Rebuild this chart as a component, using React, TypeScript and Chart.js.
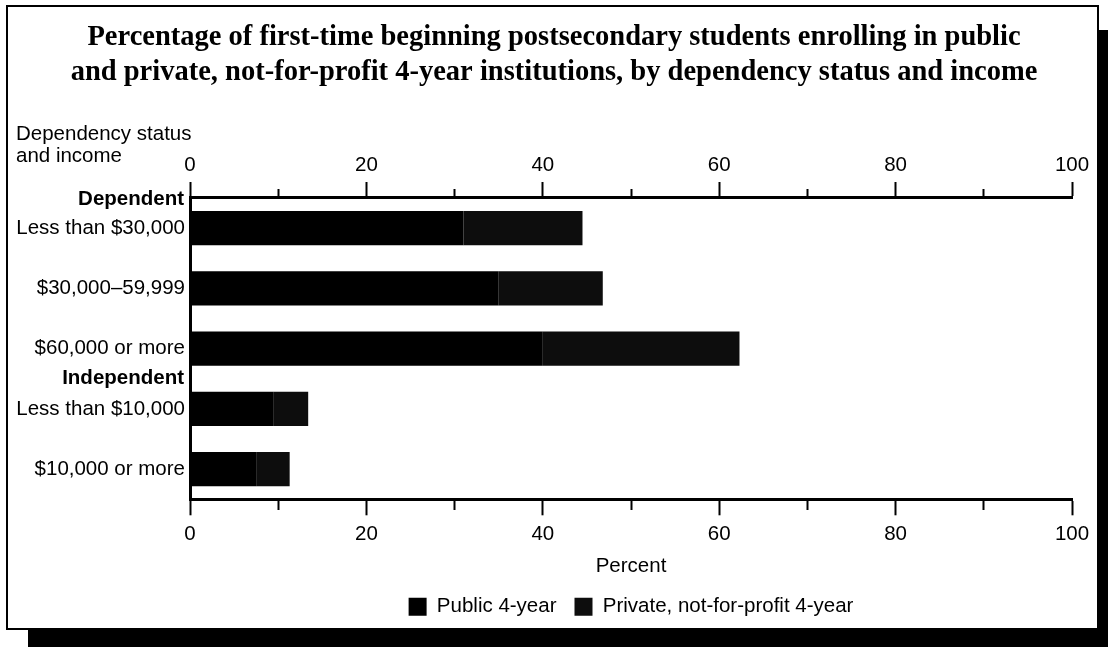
import React, { useEffect, useRef } from 'react';
import { Chart, registerables } from 'chart.js';

Chart.register(...registerables);

// ---------- data ----------
const titleLines = [
  'Percentage of first-time beginning postsecondary students enrolling in public',
  'and private, not-for-profit 4-year institutions, by dependency status and income',
];
const categories = [
  'Less than $30,000',
  '$30,000–59,999',
  '$60,000 or more',
  'Less than $10,000',
  '$10,000 or more',
];
const groupHeaders = ['Dependent', 'Independent'];
const groupStartIndex = [0, 3];
const seriesNames = ['Public 4-year', 'Private, not-for-profit 4-year'];
const publicValues = [31, 35, 40, 9.5, 7.5];
const privateValues = [13.5, 11.8, 22.3, 3.9, 3.8];
const yAxisTitleLines = ['Dependency status', 'and income'];
const xAxisTitle = 'Percent';
const xMin = 0;
const xMax = 100;
const xMinorStep = 10;
const xLabelStep = 20;

const SANS = '"Liberation Sans", Arial, Helvetica, sans-serif';
const SERIF = '"Liberation Serif", "Times New Roman", Times, serif';
const FS = 20.5;

const headerPlugin = {
  id: 'groupHeaders',
  afterDraw(chart: any) {
    const { ctx, chartArea, scales } = chart;
    const y = scales.y;
    ctx.save();
    ctx.fillStyle = '#000';
    ctx.font = `bold ${FS}px ${SANS}`;
    ctx.textAlign = 'right';
    ctx.textBaseline = 'middle';
    groupHeaders.forEach((h, i) => {
      const idx = groupStartIndex[i];
      const py =
        idx === 0
          ? chartArea.top + 1
          : (y.getPixelForValue(idx - 1) + y.getPixelForValue(idx)) / 2;
      ctx.fillText(h, chartArea.left - 6, py);
    });
    ctx.font = `${FS}px ${SANS}`;
    ctx.textAlign = 'left';
    yAxisTitleLines.forEach((t, i) => {
      ctx.fillText(t, 16, 134 + i * 22);
    });
    ctx.restore();
  },
};

const tickFont = { family: SANS, size: FS };

function makeXAxis(position: 'top' | 'bottom') {
  const isTop = position === 'top';
  return {
    type: 'linear',
    position,
    min: xMin,
    max: xMax,
    stacked: true,
    ticks: {
      stepSize: xMinorStep,
      autoSkip: false,
      maxRotation: 0,
      color: '#000',
      font: tickFont,
      padding: isTop ? 4 : 7,
      callback: (v: number) => (v % xLabelStep === 0 ? String(v) : ''),
    },
    grid: {
      drawOnChartArea: false,
      drawTicks: true,
      tickLength: 16,
      tickWidth: 2,
      tickColor: '#000',
      tickBorderDash: (c: any) =>
        c.tick && c.tick.value % xLabelStep !== 0 ? (isTop ? [9, 7] : [9, 100]) : [],
      tickBorderDashOffset: (c: any) =>
        c.tick && c.tick.value % xLabelStep !== 0 && isTop ? 9 : 0,
    },
    border: { display: true, width: 3, color: '#000' },
    title: isTop
      ? { display: false }
      : {
          display: true,
          text: xAxisTitle,
          color: '#000',
          font: { family: SANS, size: FS },
          padding: { top: 0, bottom: 0 },
        },
  };
}

export default function App() {
  const canvasRef = useRef<HTMLCanvasElement | null>(null);

  useEffect(() => {
    if (!canvasRef.current) return;
    Chart.defaults.font.family = SANS;
    const chart = new Chart(canvasRef.current, {
      type: 'bar',
      data: {
        labels: categories,
        datasets: [
          {
            label: seriesNames[0],
            data: publicValues,
            backgroundColor: '#000000',
            borderWidth: 0,
            barPercentage: 0.57,
            categoryPercentage: 1,
          },
          {
            label: seriesNames[1],
            data: privateValues,
            backgroundColor: '#0d0d0d',
            borderWidth: 0,
            barPercentage: 0.57,
            categoryPercentage: 1,
          },
        ],
      },
      options: {
        indexAxis: 'y',
        responsive: false,
        animation: false,
        layout: { padding: { left: 0, right: 0, top: 0, bottom: 20 } },
        scales: {
          x: makeXAxis('bottom') as any,
          xTop: makeXAxis('top') as any,
          y: {
            type: 'category',
            stacked: true,
            offset: true,
            position: 'left',
            ticks: { color: '#000', font: tickFont, padding: 5 },
            grid: { drawOnChartArea: false, drawTicks: false, tickLength: 0 },
            border: { display: true, width: 3, color: '#000' },
            afterFit: (s: any) => {
              s.width = 190;
            },
          } as any,
          yRight: {
            type: 'category',
            position: 'right',
            display: true,
            ticks: { display: false },
            grid: { display: false, drawTicks: false },
            border: { display: false },
            afterFit: (s: any) => {
              s.width = 36;
            },
          } as any,
        },
        plugins: {
          title: {
            display: true,
            text: titleLines,
            color: '#000',
            font: { family: SERIF, size: 28.5, weight: 'bold', lineHeight: 1.2 },
            padding: { top: 21, bottom: 60 },
          },
          legend: {
            display: true,
            position: 'bottom',
            fullSize: false,
            labels: {
              color: '#000',
              font: { family: SANS, size: FS },
              boxWidth: 18,
              boxHeight: 18,
              padding: 18,
            },
          },
          tooltip: { enabled: false },
        },
      },
      plugins: [headerPlugin],
    });
    return () => chart.destroy();
  }, []);

  return (
    <div
      style={{
        position: 'absolute',
        left: 0,
        top: 0,
        width: 1108,
        height: 647,
        overflow: 'hidden',
        background: '#fff',
      }}
    >
      <div
        style={{
          position: 'absolute',
          left: 28,
          top: 30,
          width: 1108,
          height: 647,
          background: '#000',
        }}
      />
      <div
        style={{
          position: 'absolute',
          left: 6,
          top: 5,
          width: 1093,
          height: 625,
          border: '2px solid #000',
          boxSizing: 'border-box',
          background: '#fff',
        }}
      />
      <canvas
        ref={canvasRef}
        width={1108}
        height={647}
        style={{ position: 'absolute', left: 0, top: 0, width: 1108, height: 647 }}
      />
    </div>
  );
}
